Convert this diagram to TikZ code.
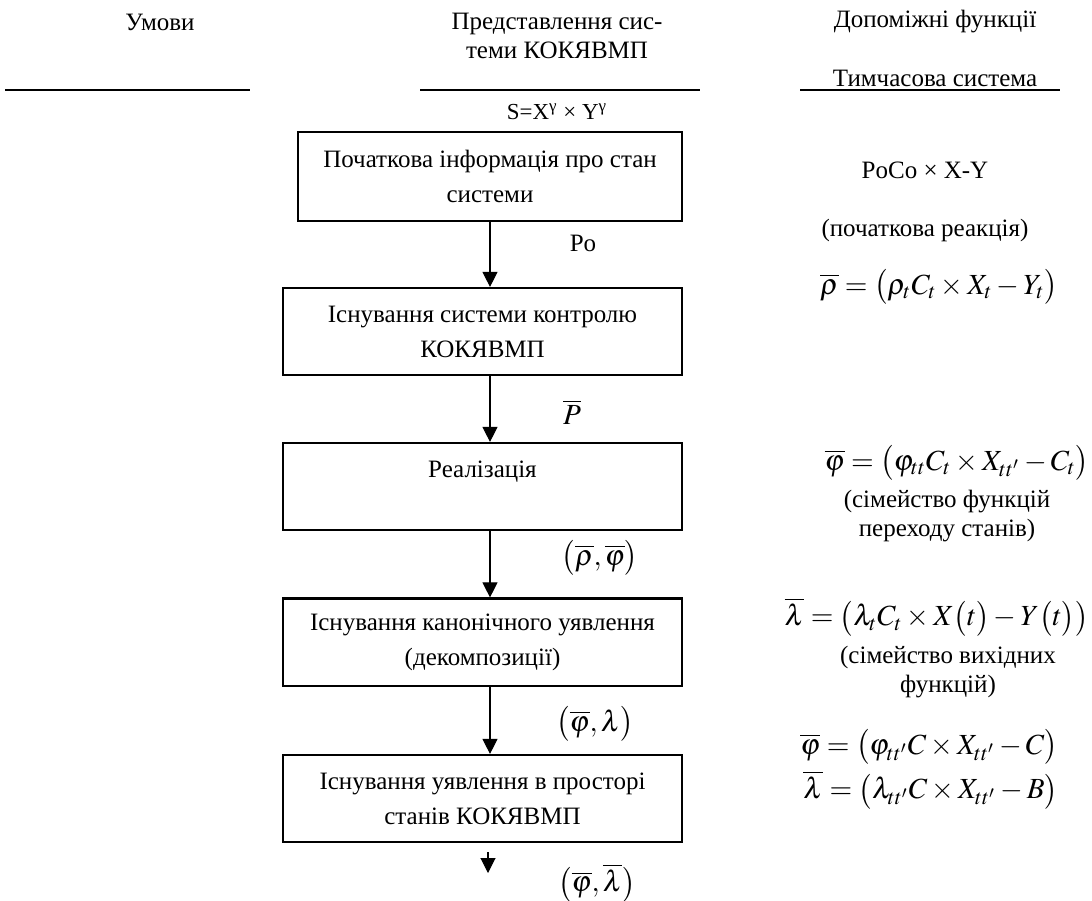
\documentclass[tikz,border=0pt]{standalone}
\usepackage{amsmath}
\usepackage{mathptmx}
\usepackage{fontspec}
\setmainfont{Liberation Serif}
\usetikzlibrary{arrows.meta, positioning}

\begin{document}
\begin{tikzpicture}[x=0.48pt, y=-0.48pt, >={Triangle[length=7.2pt, width=7.2pt]},
  font=\fontsize{12}{16.8}\selectfont,
  blok/.style={draw, line width=1pt, minimum width=191.5pt, minimum height=41.8pt, align=center, inner sep=2pt},
  formula/.style={font=\fontsize{14}{17}\selectfont, inner sep=0pt},
  pidpys/.style={align=center, font=\fontsize{12}{14}\selectfont, inner sep=0pt}]
  \useasboundingbox (0,0) rectangle (1092,901);

  % Заголовки колонок
  \node[pidpys] (umovy) at (160,22) {Умови};
  \node[pidpys] (predst) at (557,36) {Представлення сис-\\теми КОКЯВМП};
  \node[pidpys] (dopom) at (935,22) {Допоміжні функції};
  \node[pidpys] (tymch) at (935,78) {Тимчасова система};
  \draw[line width=0.8pt] (5,90) -- (250,90);
  \draw[line width=0.8pt] (420,90) -- (700,90);
  \draw[line width=0.8pt] (800,90) -- (1060,90);
  \node[font=\fontsize{11}{13}\selectfont, inner sep=0pt] (sxy) at (557,112) {S=X\textsuperscript{γ} × Y\textsuperscript{γ}};

  % Блоки
  \node[blok, minimum width=184.3pt, minimum height=42.7pt] (poch) at (490,176.5) {Початкова інформація про стан\\системи};
  \node[blok] (kontr) at (482.5,331.5) {Існування системи контролю\\КОКЯВМП};
  \node[blok] (real) at (482.5,486.5) {Реалізація\\\phantom{Р}};
  \node[blok] (kanon) at (482.5,642) {Існування канонічного уявлення\\(декомпозиції)};
  \node[blok] (prost) at (482.5,798.5) {Існування уявлення в просторі\\станів КОКЯВМП};

  % Стрілки
  \draw[->, line width=0.5pt] (poch.south) -- (poch.south |- kontr.north);
  \draw[->, line width=0.5pt] (poch.south |- kontr.south) -- (poch.south |- real.north);
  \draw[->, line width=0.5pt] (poch.south |- real.south) -- (poch.south |- kanon.north);
  \draw[->, line width=0.5pt] (poch.south |- kanon.south) -- (poch.south |- prost.north);
  \coordinate (kin1) at (488,852);
  \coordinate (kin2) at (488,873);
  \draw[->, line width=0.5pt] (kin1) -- (kin2);

  % Підписи стрілок
  \node[inner sep=0pt] (po) at (583,243) {Po};
  \node[formula] (pbar) at (572,412) {$\overline{P}$};
  \node[formula] (rf) at (600,558) {$\bigl(\overline{\rho},\overline{\varphi}\bigr)$};
  \node[formula] (fl) at (595,724) {$\bigl(\overline{\varphi},\lambda\bigr)$};
  \node[formula] (flbar) at (597,883) {$\bigl(\overline{\varphi},\overline{\lambda}\bigr)$};

  % Допоміжні функції
  \node[inner sep=0pt] (poco) at (925,170) {PoCo × X-Y};
  \node[inner sep=0pt] (reak) at (925,230) {(початкова реакція)};
  \node[formula] (rho) at (939,287) {$\overline{\rho}=\bigl(\rho_t C_t\times X_t-Y_t\bigr)$};
  \node[formula] (phi) at (957,463) {$\overline{\varphi}=\bigl(\varphi_{tt} C_t\times X_{tt'}-C_t\bigr)$};
  \node[pidpys] (perekh) at (947,516) {(сімейство функцій\\переходу станів)};
  \node[formula, anchor=east] (lam) at (1089,617) {$\overline{\lambda}=\bigl(\lambda_t C_t\times X\bigl(t\bigr)-Y\bigl(t\bigr)\bigr)$};
  \node[pidpys] (vykh) at (948,672) {(сімейство вихідних\\функцій)};
  \node[formula, anchor=west] (phi2) at (800,747) {$\overline{\varphi}=\bigl(\varphi_{tt'} C\times X_{tt'}-C\bigr)$};
  \node[formula, anchor=west] (lam2) at (803,790) {$\overline{\lambda}=\bigl(\lambda_{tt'} C\times X_{tt'}-B\bigr)$};
\end{tikzpicture}
\end{document}
